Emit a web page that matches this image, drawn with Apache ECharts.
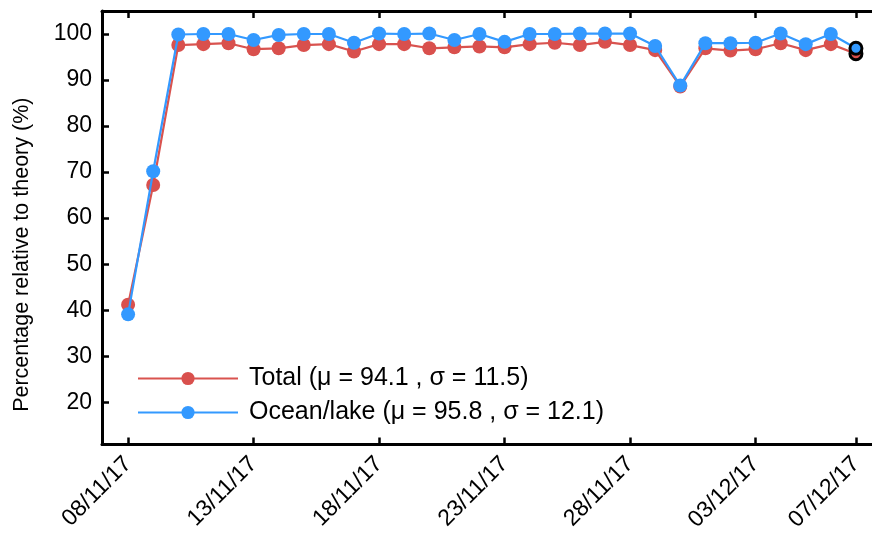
<!DOCTYPE html>
<html>
<head>
<meta charset="utf-8">
<script src="https://cdn.jsdelivr.net/npm/echarts@6/dist/echarts.min.js"></script>
<style>html,body{margin:0;padding:0;background:#fff;}#c{width:872px;height:534px;}</style>
</head>
<body>
<div id="c"></div>
<script>
var dates = ['08/11/17','09/11/17','10/11/17','11/11/17','12/11/17','13/11/17','14/11/17','15/11/17','16/11/17','17/11/17',
             '18/11/17','19/11/17','20/11/17','21/11/17','22/11/17','23/11/17','24/11/17','25/11/17','26/11/17','27/11/17',
             '28/11/17','29/11/17','30/11/17','01/12/17','02/12/17','03/12/17','04/12/17','05/12/17','06/12/17','07/12/17'];
var totalValues = [41.2, 67.2, 97.6, 97.8, 98.0, 96.7, 96.9, 97.6, 97.8, 96.2,
                   97.8, 97.8, 96.9, 97.1, 97.3, 97.1, 97.8, 98.1, 97.6, 98.3,
                   97.6, 96.5, 88.6, 96.9, 96.4, 96.7, 98.0, 96.5, 97.8, 95.7];
var oceanValues = [39.1, 70.2, 99.9, 100.0, 100.0, 98.7, 99.8, 100.0, 100.0, 98.1,
                   100.1, 100.0, 100.1, 98.7, 100.0, 98.3, 100.0, 100.0, 100.1, 100.1,
                   100.1, 97.4, 88.8, 98.0, 98.0, 98.1, 100.1, 97.8, 100.0, 96.9];
var xTickIdx = [0, 5, 10, 15, 20, 25, 29];
var yTicks = [20, 30, 40, 50, 60, 70, 80, 90, 100];
var seriesNames = ['Total (\u03bc = 94.1 , \u03c3 = 11.5)', 'Ocean/lake (\u03bc = 95.8 , \u03c3 = 12.1)'];

var FONT = 'Liberation Sans';
function mk(vals) {
  return vals.map(function (v, i) {
    var p = { value: [i, v] };
    if (i === vals.length - 1) {
      p.symbolSize = 12;
      p.itemStyle = { borderColor: '#000', borderWidth: 3 };
    }
    return p;
  });
}
var axisLine = { show: true, onZero: false, lineStyle: { color: '#000', width: 3 } };
var chart = echarts.init(document.getElementById('c'));
chart.setOption({
  animation: false,
  backgroundColor: '#fff',
  grid: { left: 102, top: 11, bottom: 88, right: 0, containLabel: false },
  legend: {
    orient: 'vertical', left: 137, top: 366, padding: 0, itemWidth: 100, itemHeight: 16.5, itemGap: 9,
    textStyle: { fontFamily: FONT, fontSize: 25, color: '#000', padding: [0, 0, 0, 6] },
    data: seriesNames
  },
  xAxis: [{
    type: 'value', min: -1.04, max: 29.64, position: 'bottom',
    axisLine: axisLine, splitLine: { show: false },
    axisTick: { show: true, inside: true, length: 7, lineStyle: { color: '#000', width: 2.5 }, customValues: xTickIdx },
    axisLabel: { show: true, rotate: 45, margin: 16, fontFamily: FONT, fontSize: 23, color: '#000',
      customValues: xTickIdx, formatter: function (v) { return dates[Math.round(v)]; } }
  }, {
    type: 'value', min: -1.04, max: 29.64, position: 'top',
    axisLine: axisLine, splitLine: { show: false },
    axisTick: { show: true, inside: true, length: 7, lineStyle: { color: '#000', width: 2.5 }, customValues: xTickIdx },
    axisLabel: { show: false }
  }],
  yAxis: {
    type: 'value', min: 10.84, max: 105,
    name: 'Percentage relative to theory (%)', nameLocation: 'middle', nameGap: 69,
    nameTextStyle: { fontFamily: FONT, fontSize: 21.5, color: '#000', padding: [0, 54, 0, 0] },
    axisLine: axisLine, splitLine: { show: false },
    axisTick: { show: true, inside: true, length: 7, lineStyle: { color: '#000', width: 2.5 }, customValues: yTicks },
    axisLabel: { show: true, margin: 10, fontFamily: FONT, fontSize: 23, color: '#000', customValues: yTicks }
  },
  series: [{
    name: seriesNames[0], type: 'line', data: mk(totalValues), symbol: 'circle', symbolSize: 14,
    lineStyle: { color: '#d9534f', width: 2.2 }, itemStyle: { color: '#d9504d' }, z: 2
  }, {
    name: seriesNames[1], type: 'line', data: mk(oceanValues), symbol: 'circle', symbolSize: 14,
    lineStyle: { color: '#3399ff', width: 2.2 }, itemStyle: { color: '#3399ff' }, z: 3
  }]
});
</script>
</body>
</html>
